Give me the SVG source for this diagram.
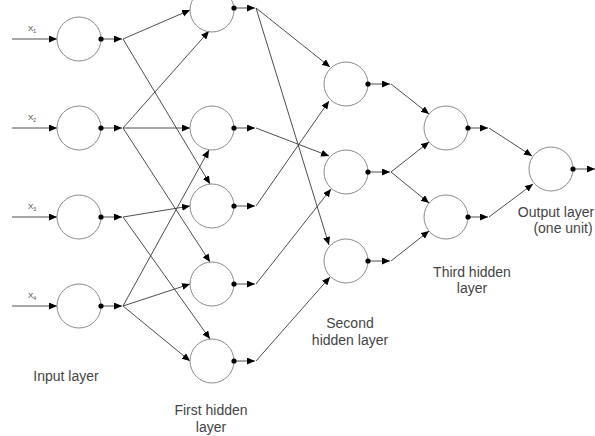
<svg xmlns="http://www.w3.org/2000/svg" width="595" height="436" viewBox="0 0 595 436">
<style>
.n{fill:none;stroke:#8a8a8a;stroke-width:1}
.d{fill:#000}
.c{fill:none;stroke:#3a3a3a;stroke-width:0.9;marker-end:url(#a)}
.t{font-family:"Liberation Sans",Arial,sans-serif;font-size:14px;fill:#444;text-anchor:middle}
.x{font-family:"Liberation Sans",Arial,sans-serif;font-size:8px;fill:#444}
</style>
<defs>
<marker id="a" markerUnits="userSpaceOnUse" markerWidth="9" markerHeight="8" refX="8" refY="3.5" orient="auto">
<path d="M0,0L8,3.5L0,7z" fill="#000"/>
</marker>
</defs>
<rect width="595" height="436" fill="#fff"/>
<g id="connectors">
<path class="c" d="M12,39H57"/>
<path class="c" d="M12,128H57"/>
<path class="c" d="M12,217H57"/>
<path class="c" d="M12,306H57"/>
<path class="c" d="M101,39H122"/>
<path class="c" d="M101,128H122"/>
<path class="c" d="M101,217H122"/>
<path class="c" d="M101,306H122"/>
<path class="c" d="M234,8H255"/>
<path class="c" d="M234,128H255"/>
<path class="c" d="M234,206H255"/>
<path class="c" d="M234,284H255"/>
<path class="c" d="M234,361H255"/>
<path class="c" d="M368,84H390"/>
<path class="c" d="M368,172H390"/>
<path class="c" d="M368,261H390"/>
<path class="c" d="M468,128H488"/>
<path class="c" d="M468,217H488"/>
<path class="c" d="M573,169H595"/>
<path class="c" d="M123,39L190,10"/>
<path class="c" d="M123,39L210,184"/>
<path class="c" d="M123,128L209,31"/>
<path class="c" d="M123,128H190"/>
<path class="c" d="M123,128L210,262"/>
<path class="c" d="M123,217L190,206"/>
<path class="c" d="M123,217L210,339"/>
<path class="c" d="M123,306L209,150"/>
<path class="c" d="M123,306L190,284"/>
<path class="c" d="M123,306L190,361"/>
<path class="c" d="M256,8L330,67"/>
<path class="c" d="M256,8L329,245"/>
<path class="c" d="M256,128L329,156"/>
<path class="c" d="M256,206L329,101"/>
<path class="c" d="M256,284L331,189"/>
<path class="c" d="M256,361L330,277"/>
<path class="c" d="M391,84L429,114"/>
<path class="c" d="M391,172L429,142"/>
<path class="c" d="M391,172L429,203"/>
<path class="c" d="M391,261L429,231"/>
<path class="c" d="M489,128L532,156"/>
<path class="c" d="M489,217L533,184"/>
</g>
<g id="i1"><circle class="n" cx="79" cy="39" r="22"/><circle class="d" cx="101" cy="39" r="2.6"/><text class="x" x="28" y="31">X<tspan font-size="5" dy="2">1</tspan></text></g>
<g id="i2"><circle class="n" cx="79" cy="128" r="22"/><circle class="d" cx="101" cy="128" r="2.6"/><text class="x" x="28" y="120">X<tspan font-size="5" dy="2">2</tspan></text></g>
<g id="i3"><circle class="n" cx="79" cy="217" r="22"/><circle class="d" cx="101" cy="217" r="2.6"/><text class="x" x="28" y="209">X<tspan font-size="5" dy="2">3</tspan></text></g>
<g id="i4"><circle class="n" cx="79" cy="306" r="22"/><circle class="d" cx="101" cy="306" r="2.6"/><text class="x" x="28" y="298">X<tspan font-size="5" dy="2">4</tspan></text></g>
<g id="h1"><circle class="n" cx="212" cy="10" r="22"/><circle class="d" cx="234" cy="8" r="2.6"/></g>
<g id="h2"><circle class="n" cx="212" cy="128" r="22"/><circle class="d" cx="234" cy="128" r="2.6"/></g>
<g id="h3"><circle class="n" cx="212" cy="206" r="22"/><circle class="d" cx="234" cy="206" r="2.6"/></g>
<g id="h4"><circle class="n" cx="212" cy="284" r="22"/><circle class="d" cx="234" cy="284" r="2.6"/></g>
<g id="h5"><circle class="n" cx="212" cy="361" r="22"/><circle class="d" cx="234" cy="361" r="2.6"/></g>
<g id="s1"><circle class="n" cx="346" cy="84" r="22"/><circle class="d" cx="368" cy="84" r="2.6"/></g>
<g id="s2"><circle class="n" cx="346" cy="172" r="22"/><circle class="d" cx="368" cy="172" r="2.6"/></g>
<g id="s3"><circle class="n" cx="346" cy="261" r="22"/><circle class="d" cx="368" cy="261" r="2.6"/></g>
<g id="t1"><circle class="n" cx="446" cy="128" r="22"/><circle class="d" cx="468" cy="128" r="2.6"/></g>
<g id="t2"><circle class="n" cx="446" cy="217" r="22"/><circle class="d" cx="468" cy="217" r="2.6"/></g>
<g id="o1"><circle class="n" cx="551" cy="169" r="22"/><circle class="d" cx="573" cy="169" r="2.6"/></g>
<g id="labels">
<text class="t" x="66" y="381">Input layer</text>
<text class="t" x="211" y="415">First hidden</text>
<text class="t" x="211" y="432">layer</text>
<text class="t" x="350" y="328">Second</text>
<text class="t" x="350" y="345">hidden layer</text>
<text class="t" x="472" y="277">Third hidden</text>
<text class="t" x="472" y="293">layer</text>
<text class="t" x="556" y="217" font-size="13.5">Output layer</text>
<text class="t" x="563" y="233">(one unit)</text>
</g>
</svg>
